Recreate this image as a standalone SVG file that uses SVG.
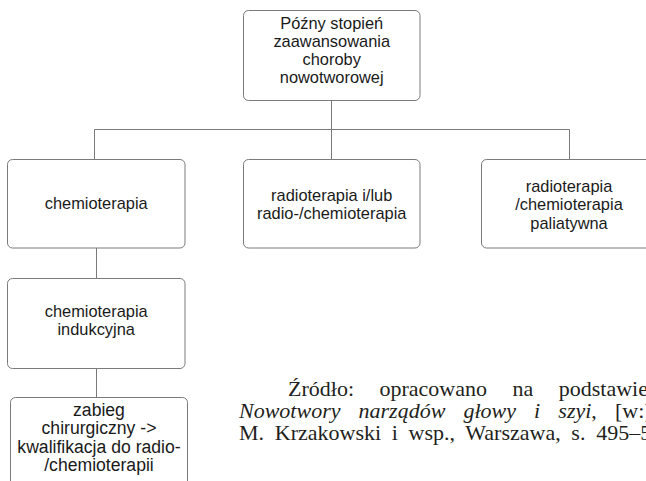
<svg xmlns="http://www.w3.org/2000/svg" width="646" height="481" viewBox="0 0 646 481">
<style>
.box{fill:#ffffff;stroke:#7a7a7a;stroke-width:1}
.lbl{font-family:"Liberation Sans",Arial,sans-serif;font-size:16.4px;fill:#1a1a1a;text-anchor:middle}
.big{font-size:17.6px}
.con{stroke:#7a7a7a;stroke-width:1;fill:none}
.src{font-family:"Liberation Serif","Times New Roman",serif;font-size:22px;fill:#231f20}
.it{font-style:italic}
</style>
<rect width="646" height="481" fill="#ffffff"/>
<g id="connectors">
<path class="con" d="M331.5,100.5 V159.5"/>
<path class="con" d="M94.5,159.5 V129.5 H569.5 V159.5"/>
<path class="con" d="M96.5,248 V278.5"/>
<path class="con" d="M96.5,368.5 V397.5"/>
</g>
<g id="n_top">
<rect class="box" x="243.5" y="10.5" width="176.5" height="90" rx="5"/>
<text class="lbl" x="331.7" y="28.5">Późny stopień</text>
<text class="lbl" x="331.7" y="46.8">zaawansowania</text>
<text class="lbl" x="331.7" y="65.1">choroby</text>
<text class="lbl" x="331.7" y="83.4">nowotworowej</text>
</g>
<g id="n_chemio">
<rect class="box" x="7.5" y="159.5" width="177.5" height="88.5" rx="5"/>
<text class="lbl" x="96.2" y="209">chemioterapia</text>
</g>
<g id="n_radio">
<rect class="box" x="243.5" y="159.5" width="176.5" height="88.5" rx="5"/>
<text class="lbl" x="331.7" y="200.5">radioterapia i/lub</text>
<text class="lbl" x="331.7" y="219">radio-/chemioterapia</text>
</g>
<g id="n_pal">
<rect class="box" x="481.5" y="159.5" width="177" height="88.5" rx="5"/>
<text class="lbl" x="569" y="192">radioterapia</text>
<text class="lbl" x="569" y="210.3">/chemioterapia</text>
<text class="lbl" x="569" y="228.6">paliatywna</text>
</g>
<g id="n_induk">
<rect class="box" x="7.5" y="278.5" width="177.5" height="90" rx="5"/>
<text class="lbl" x="96.2" y="316.5">chemioterapia</text>
<text class="lbl" x="96.2" y="334.8">indukcyjna</text>
</g>
<g id="n_zabieg">
<rect class="box" x="10.5" y="397.5" width="177" height="100" rx="5"/>
<text class="lbl big" x="99" y="416">zabieg</text>
<text class="lbl big" x="99" y="434.3">chirurgiczny -&gt;</text>
<text class="lbl big" x="99" y="452.6">kwalifikacja do radio-</text>
<text class="lbl big" x="99" y="471">/chemioterapii</text>
</g>
<g id="source">
<text class="src" x="288" y="396" word-spacing="20">Źródło: opracowano na podstawie</text>
<text class="src" x="239" y="418" word-spacing="12.6"><tspan class="it">Nowotwory narządów głowy i szyi</tspan>, [w:]</text>
<text class="src" x="239" y="440" word-spacing="5.2">M. Krzakowski i wsp., Warszawa, s. 495–5</text>
</g>
</svg>
